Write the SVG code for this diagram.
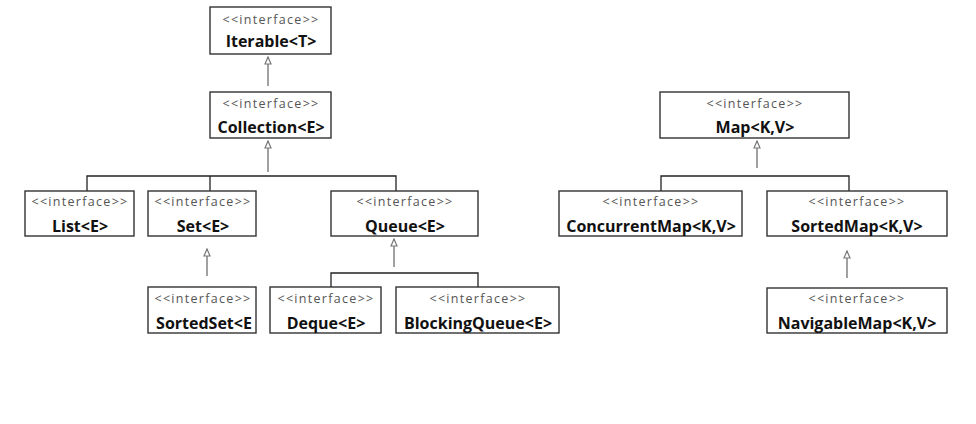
<svg xmlns="http://www.w3.org/2000/svg" width="976" height="424" viewBox="0 0 976 424">
<defs>
<style>
.box{fill:#fff;stroke:#333;stroke-width:1.4}
.st{font-family:"Open Sans","Liberation Sans",sans-serif;font-size:12.5px;fill:#555;text-anchor:middle;letter-spacing:1.3px}
.nm{font-family:"Open Sans","Liberation Sans",sans-serif;font-size:16px;font-weight:bold;fill:#111;text-anchor:middle}
.tree{fill:none;stroke:#222;stroke-width:1.3}
.arr{fill:none;stroke:#8a8a8a;stroke-width:1.6;marker-end:url(#tri)}
</style>
<marker id="tri" viewBox="0 0 9 8" refX="8" refY="4" markerWidth="9" markerHeight="8" markerUnits="userSpaceOnUse" orient="auto">
<path d="M1,1 L8,4 L1,7 Z" fill="#fff" stroke="#777" stroke-width="1.2"/>
</marker>
</defs>
<rect width="976" height="424" fill="#fff"/>
<g id="connectors">
<line class="arr" x1="268" y1="86" x2="268" y2="57"/>
<line class="arr" x1="268" y1="172" x2="268" y2="141"/>
<polyline class="tree" points="87,191 87,176 396,176 396,191"/>
<line class="tree" x1="210" y1="176" x2="210" y2="191"/>
<line class="arr" x1="207" y1="276" x2="207" y2="249"/>
<line class="arr" x1="394" y1="267" x2="394" y2="239"/>
<polyline class="tree" points="331,287 331,273 478,273 478,287"/>
<line class="arr" x1="757" y1="168" x2="757" y2="141"/>
<polyline class="tree" points="661,191 661,176 849,176 849,191"/>
<line class="arr" x1="847" y1="278" x2="847" y2="251"/>
</g>
<g id="iterable">
<rect class="box" x="210" y="7" width="121" height="47"/>
<text class="st" x="271" y="24">&lt;&lt;interface&gt;&gt;</text>
<text class="nm" x="271" y="47">Iterable&lt;T&gt;</text>
</g>
<g id="collection">
<rect class="box" x="210" y="92" width="121" height="46"/>
<text class="st" x="271" y="108">&lt;&lt;interface&gt;&gt;</text>
<text class="nm" x="271" y="133">Collection&lt;E&gt;</text>
</g>
<g id="list">
<rect class="box" x="25" y="191" width="109" height="45"/>
<text class="st" x="80" y="206">&lt;&lt;interface&gt;&gt;</text>
<text class="nm" x="80" y="232">List&lt;E&gt;</text>
</g>
<g id="set">
<rect class="box" x="148" y="191" width="108" height="45"/>
<text class="st" x="203" y="206">&lt;&lt;interface&gt;&gt;</text>
<text class="nm" x="203" y="232">Set&lt;E&gt;</text>
</g>
<g id="queue">
<rect class="box" x="331" y="191" width="147" height="45"/>
<text class="st" x="405" y="206">&lt;&lt;interface&gt;&gt;</text>
<text class="nm" x="405" y="232">Queue&lt;E&gt;</text>
</g>
<g id="sortedset">
<rect class="box" x="148" y="287" width="108" height="46"/>
<text class="st" x="203" y="303">&lt;&lt;interface&gt;&gt;</text>
<text class="nm" x="204" y="329">SortedSet&lt;E</text>
</g>
<g id="deque">
<rect class="box" x="270" y="287" width="111" height="46"/>
<text class="st" x="326" y="303">&lt;&lt;interface&gt;&gt;</text>
<text class="nm" x="326" y="329">Deque&lt;E&gt;</text>
</g>
<g id="blockingqueue">
<rect class="box" x="396" y="287" width="163" height="46"/>
<text class="st" x="478" y="303">&lt;&lt;interface&gt;&gt;</text>
<text class="nm" x="478" y="329">BlockingQueue&lt;E&gt;</text>
</g>
<g id="map">
<rect class="box" x="660" y="92" width="189" height="46"/>
<text class="st" x="755" y="108">&lt;&lt;interface&gt;&gt;</text>
<text class="nm" x="755" y="133">Map&lt;K,V&gt;</text>
</g>
<g id="concurrentmap">
<rect class="box" x="559" y="191" width="183" height="45"/>
<text class="st" x="651" y="206">&lt;&lt;interface&gt;&gt;</text>
<text class="nm" x="651" y="232">ConcurrentMap&lt;K,V&gt;</text>
</g>
<g id="sortedmap">
<rect class="box" x="767" y="191" width="180" height="45"/>
<text class="st" x="857" y="206">&lt;&lt;interface&gt;&gt;</text>
<text class="nm" x="857" y="232">SortedMap&lt;K,V&gt;</text>
</g>
<g id="navigablemap">
<rect class="box" x="767" y="288" width="180" height="45"/>
<text class="st" x="857" y="303">&lt;&lt;interface&gt;&gt;</text>
<text class="nm" x="857" y="329">NavigableMap&lt;K,V&gt;</text>
</g>
</svg>
